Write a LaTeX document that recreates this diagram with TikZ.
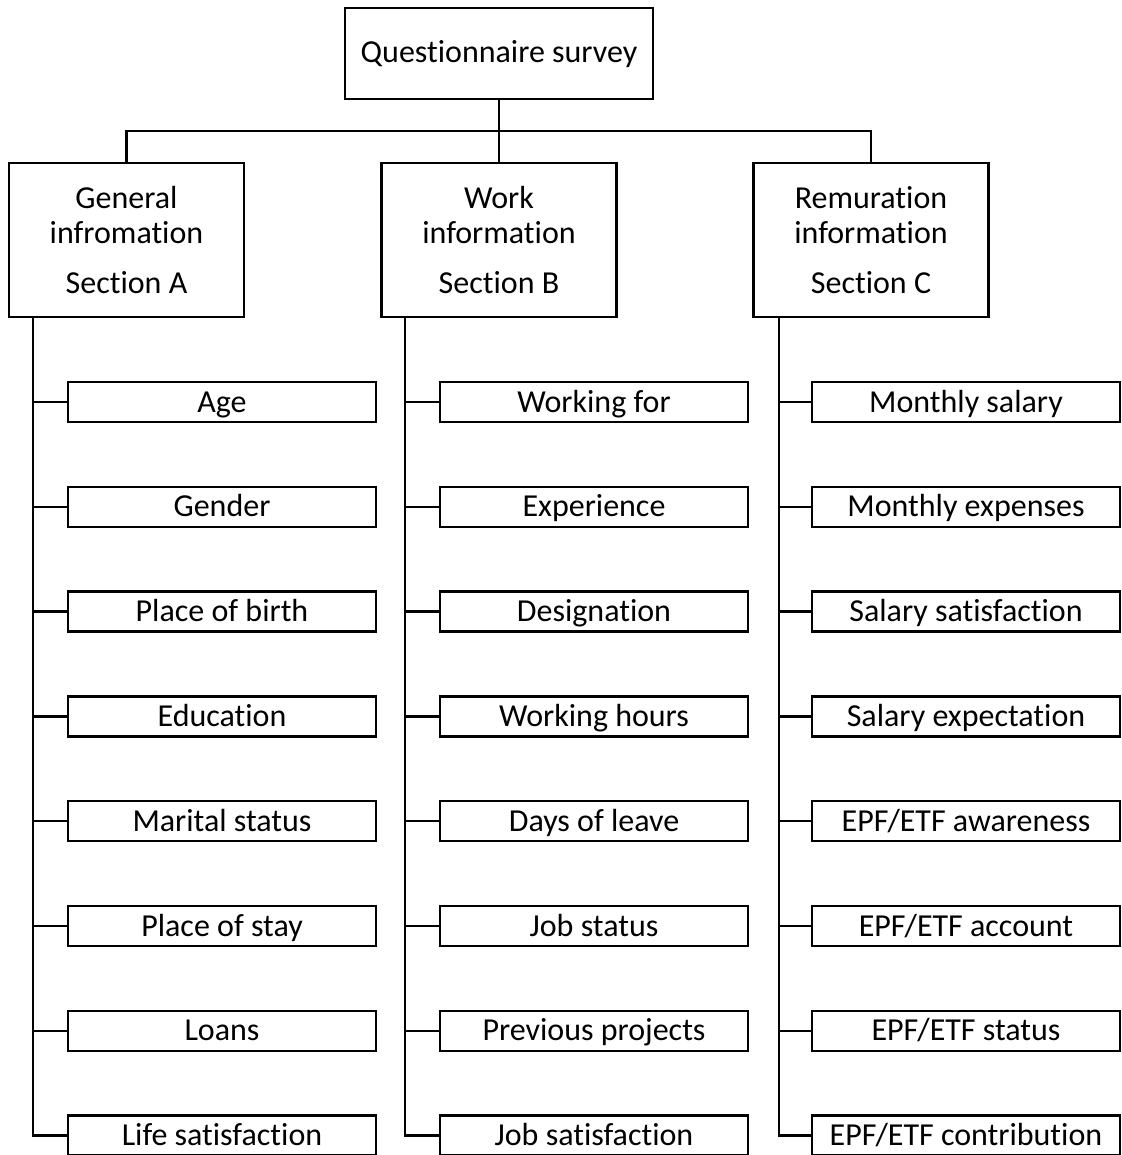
\documentclass[tikz,border=0pt]{standalone}
\usepackage{fontspec}
\setmainfont{Carlito}[Ligatures=NoCommon]
\begin{document}
\begin{tikzpicture}[x=1pt,y=-1pt,
  every node/.style={font=\fontsize{32}{35}\selectfont},
  conn/.style={line width=2.4pt},
  box/.style={draw,line width=2.4pt,rectangle,inner sep=0pt,align=center},
  topbox/.style={box,minimum width=308pt,minimum height=91pt,text height=26pt,text depth=7pt},
  secbox/.style={box,minimum width=235pt,minimum height=154pt},
  itembox/.style={box,minimum width=308pt,minimum height=40pt,text height=27pt,text depth=7pt}]
\useasboundingbox (0,0) rectangle (1121,1155);

\node[topbox] (top) at (499,53.5) {Questionnaire survey};

\node[secbox] (A) at (126.5,240) {General\\infromation\\[15pt]Section A};
\node[secbox] (B) at (499,240) {Work\\information\\[15pt]Section B};
\node[secbox] (C) at (871,240) {Remuration\\information\\[15pt]Section C};

\coordinate (bar) at (499,131);
\draw[conn] (top.south) -- (B.north);
\draw[conn] (A.north) |- (bar) -| (C.north);

% trunk heads just under each section box
\coordinate (tA) at (33,317);
\coordinate (tB) at (405,317);
\coordinate (tC) at (779,317);

\foreach \i/\ta/\tb/\tc in {
  1/Age/Working for/Monthly salary,
  2/Gender/Experience/Monthly expenses,
  3/Place of birth/Designation/Salary satisfaction,
  4/Education/Working hours/Salary expectation,
  5/Marital status/Days of leave/EPF\slash ETF awareness,
  6/Place of stay/Job status/EPF\slash ETF account,
  7/Loans/Previous projects/EPF\slash ETF status,
  8/Life satisfaction/Job satisfaction/EPF\slash ETF contribution}{
  \pgfmathsetmacro{\yy}{402+104.8*(\i-1)}
  \node[itembox] (a\i) at (222,\yy) {\ta};
  \node[itembox] (b\i) at (594,\yy) {\tb};
  \node[itembox] (c\i) at (966,\yy) {\tc};
  \draw[conn] (a\i.west) -- (tA |- a\i.west);
  \draw[conn] (b\i.west) -- (tB |- b\i.west);
  \draw[conn] (c\i.west) -- (tC |- c\i.west);
}
\draw[conn] (tA) |- (a8.west);
\draw[conn] (tB) |- (b8.west);
\draw[conn] (tC) |- (c8.west);
\end{tikzpicture}
\end{document}
